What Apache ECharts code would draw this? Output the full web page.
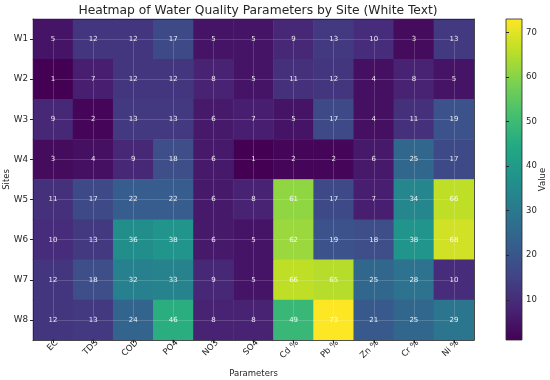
<!DOCTYPE html>
<html><head><meta charset="utf-8">
<script src="https://cdn.jsdelivr.net/npm/echarts@6/dist/echarts.min.js"></script>
<style>html,body{margin:0;padding:0;background:#fff}#c{width:550px;height:380px}</style>
</head><body><div id="c"></div>
<script>
const parameters = ['EC','TDS','COD','PO4','NO3','SO4','Cd %','Pb %','Zn %','Cr %','Ni %'];
const sites = ['W1','W2','W3','W4','W5','W6','W7','W8'];
const W1 = [5,12,12,17,5,5,9,13,10,3,13];
const W2 = [1,7,12,12,8,5,11,12,4,8,5];
const W3 = [9,2,13,13,6,7,5,17,4,11,19];
const W4 = [3,4,9,18,6,1,2,2,6,25,17];
const W5 = [11,17,22,22,6,8,61,17,7,34,66];
const W6 = [10,13,36,38,6,5,62,19,18,38,68];
const W7 = [12,18,32,33,9,5,66,65,25,28,10];
const W8 = [12,13,24,46,8,8,49,73,21,25,29];
const colorbarTicks = [10,20,30,40,50,60,70];
const vMin = 1, vMax = 73;

const rows = [W1,W2,W3,W4,W5,W6,W7,W8];
const data = [];
rows.forEach((r, yi) => r.forEach((v, xi) => data.push([xi, yi, v])));

const viridis = ['#440154','#482475','#414487','#355f8d','#2a788e','#21918c','#22a884','#44bf70','#7ad151','#bddf26','#fde725'];
const font = 'DejaVu Sans';
const G = {left:33, top:19, width:441, height:321};
const CB = {left:506, top:19, width:16, height:321};
const nX = parameters.length, nY = sites.length;
const cw = G.width / nX, ch = G.height / nY;
// overlay grid spanning first to last cell centre, for centre grid lines
const OV = {left:G.left + cw/2, top:G.top + ch/2, width:G.width - cw, height:G.height - ch};
const gridLine = {color:'rgba(255,255,255,0.28)', width:0.6};
const txt = '#262626';

const chart = echarts.init(document.getElementById('c'));
chart.setOption({
  animation:false,
  textStyle:{fontFamily:font},
  title:{text:'Heatmap of Water Quality Parameters by Site (White Text)', left:253, textAlign:'center', top:0,
    textStyle:{fontFamily:font, fontSize:12.3, fontWeight:'normal', color:txt}},
  grid:[
    {left:G.left, top:G.top, width:G.width, height:G.height, outerBoundsMode:'none', containLabel:false},
    {left:CB.left, top:CB.top, width:CB.width, height:CB.height, outerBoundsMode:'none', containLabel:false},
    {left:OV.left, top:OV.top, width:OV.width, height:OV.height, outerBoundsMode:'none', containLabel:false}
  ],
  visualMap:{show:false, min:vMin, max:vMax, dimension:2, seriesIndex:0, inRange:{color:viridis}},
  xAxis:[
    {type:'category', gridIndex:0, data:parameters, position:'bottom', z:6,
     axisLine:{show:true, lineStyle:{color:txt, width:0.8}},
     axisTick:{show:true, alignWithLabel:true, length:3, lineStyle:{color:txt}},
     axisLabel:{rotate:45, fontSize:8.5, color:txt, margin:5, fontFamily:font, padding:[0,-5,0,0]},
     splitLine:{show:false},
     name:'Parameters', nameLocation:'middle', nameGap:29, nameMoveOverlap:false,
     nameTextStyle:{fontSize:8.5, color:txt, fontFamily:font}},
    {type:'category', gridIndex:0, data:parameters, position:'top', z:6,
     axisLine:{show:true, lineStyle:{color:txt, width:0.8}}, axisTick:{show:false}, axisLabel:{show:false}, splitLine:{show:false}},
    {type:'value', gridIndex:1, show:false, min:0, max:1},
    {type:'value', gridIndex:2, min:0, max:nX-1, interval:1, z:5,
     axisLine:{show:false}, axisTick:{show:false}, axisLabel:{show:false},
     splitLine:{show:true, lineStyle:gridLine}}
  ],
  yAxis:[
    {type:'category', gridIndex:0, data:sites, inverse:true, position:'left', z:6,
     axisLine:{show:true, lineStyle:{color:txt, width:0.8}},
     axisTick:{show:true, alignWithLabel:true, length:3, lineStyle:{color:txt}},
     axisLabel:{fontSize:8.8, color:txt, margin:5, fontFamily:font},
     splitLine:{show:false},
     name:'Sites', nameLocation:'middle', nameGap:22, nameRotate:90, nameMoveOverlap:false,
     nameTextStyle:{fontSize:8.5, color:txt, fontFamily:font}},
    {type:'category', gridIndex:0, data:sites, inverse:true, position:'right', z:6,
     axisLine:{show:true, lineStyle:{color:txt, width:0.8}}, axisTick:{show:false}, axisLabel:{show:false}, splitLine:{show:false}},
    {type:'value', gridIndex:1, min:vMin, max:vMax, position:'right', z:6,
     axisLine:{show:false}, splitLine:{show:false},
     axisTick:{show:true, length:3, customValues:colorbarTicks, lineStyle:{color:txt}},
     axisLabel:{show:true, customValues:colorbarTicks, fontSize:8.5, color:txt, margin:4, fontFamily:font},
     name:'Value', nameLocation:'middle', nameGap:16, nameRotate:90, nameMoveOverlap:false,
     nameTextStyle:{fontSize:8.5, color:txt, fontFamily:font}},
    {type:'value', gridIndex:2, min:0, max:nY-1, interval:1, z:5,
     axisLine:{show:false}, axisTick:{show:false}, axisLabel:{show:false},
     splitLine:{show:true, lineStyle:gridLine}}
  ],
  graphic:[
    {type:'rect', shape:{x:CB.left, y:CB.top, width:CB.width, height:CB.height}, z:1,
     style:{fill:new echarts.graphic.LinearGradient(0,1,0,0, viridis.map((c,i)=>({offset:i/(viridis.length-1), color:c}))), stroke:txt, lineWidth:0.8}}
  ],
  series:[{
    type:'heatmap', xAxisIndex:0, yAxisIndex:0, data:data,
    label:{show:true, color:'#fff', fontSize:7, fontFamily:font, opacity:0.9},
    itemStyle:{borderWidth:0}
  }]
});
</script></body></html>
